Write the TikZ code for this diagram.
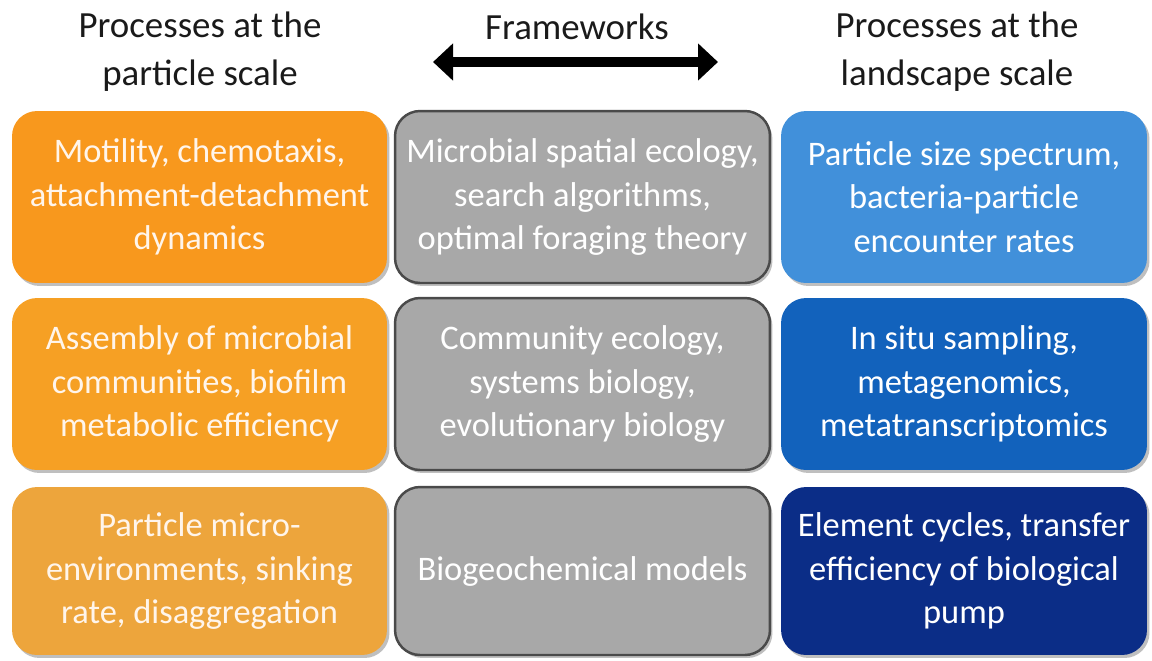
\documentclass[tikz,border=0pt]{standalone}
\usepackage{fontspec}
\setmainfont{Carlito}
\usetikzlibrary{arrows.meta, shadows, positioning}

\definecolor{orangeA}{HTML}{F8981D}
\definecolor{orangeB}{HTML}{F6A024}
\definecolor{orangeC}{HTML}{EDA53C}
\definecolor{blueA}{HTML}{4190DA}
\definecolor{blueB}{HTML}{1262BC}
\definecolor{blueC}{HTML}{0B2D87}
\definecolor{frame}{HTML}{A8A8A8}
\definecolor{frameline}{HTML}{4A4A4A}
\definecolor{headtext}{HTML}{1A1A1A}

\tikzset{
  box/.style={rounded corners=0.5cm, minimum width=7.5cm, minimum height=3.44cm,
    align=center, inner sep=0pt, text=white,
    font=\fontsize{19.6}{24.8}\selectfont,
    drop shadow={shadow xshift=0.05cm, shadow yshift=-0.06cm, opacity=0.25, fill=black}},
  partbox/.style={box, fill=#1, text=white!92!orange},
  landbox/.style={box, fill=#1, minimum width=7.32cm},
  framebox/.style={box, fill=frame, draw=frameline, line width=1.4pt},
  header/.style={align=center, text=headtext, font=\fontsize{21}{27.5}\selectfont}
}

\begin{document}
\begin{tikzpicture}[x=0.02cm, y=-0.02cm]
\useasboundingbox (0,0) rectangle (1152,660);

% column headers
\node[header] (partscale) at (200,52) {Processes at the\\particle scale};
\node[header] (framework) at (577,27) {Frameworks};
\node[header] (landscale) at (957,52) {Processes at the\\landscape scale};

\coordinate (fwL) at (433,62);
\coordinate (fwR) at (718,62);
\draw[line width=0.19cm, {Triangle[length=0.4cm, width=0.72cm]}-{Triangle[length=0.4cm, width=0.72cm]}] (fwL) -- (fwR);

% particle scale
\node[partbox=orangeA] (motility) at (199.5,197) {Motility, chemotaxis,\\attachment-detachment\\dynamics};
\node[partbox=orangeB] (assembly) at (199.5,384) {Assembly of microbial\\communities, biofilm\\metabolic efficiency};
\node[partbox=orangeC, minimum height=3.36cm] (micro) at (199.5,571) {Particle micro-\\environments, sinking\\rate, disaggregation};

% frameworks
\node[framebox] (spatial) at (582.5,197) {Microbial spatial ecology,\\search algorithms,\\optimal foraging theory};
\node[framebox] (community) at (582.5,384) {Community ecology,\\systems biology,\\evolutionary biology};
\node[framebox, minimum height=3.36cm] (biogeo) at (582.5,571) {Biogeochemical models};

% landscape scale
\node[landbox=blueA] (spectrum) at (964,197) {Particle size spectrum,\\bacteria-particle\\encounter rates};
\node[landbox=blueB] (insitu) at (964,384) {In situ sampling,\\metagenomics,\\metatranscriptomics};
\node[landbox=blueC, minimum height=3.36cm] (cycles) at (964,571) {Element cycles, transfer\\efficiency of biological\\pump};
\end{tikzpicture}
\end{document}
